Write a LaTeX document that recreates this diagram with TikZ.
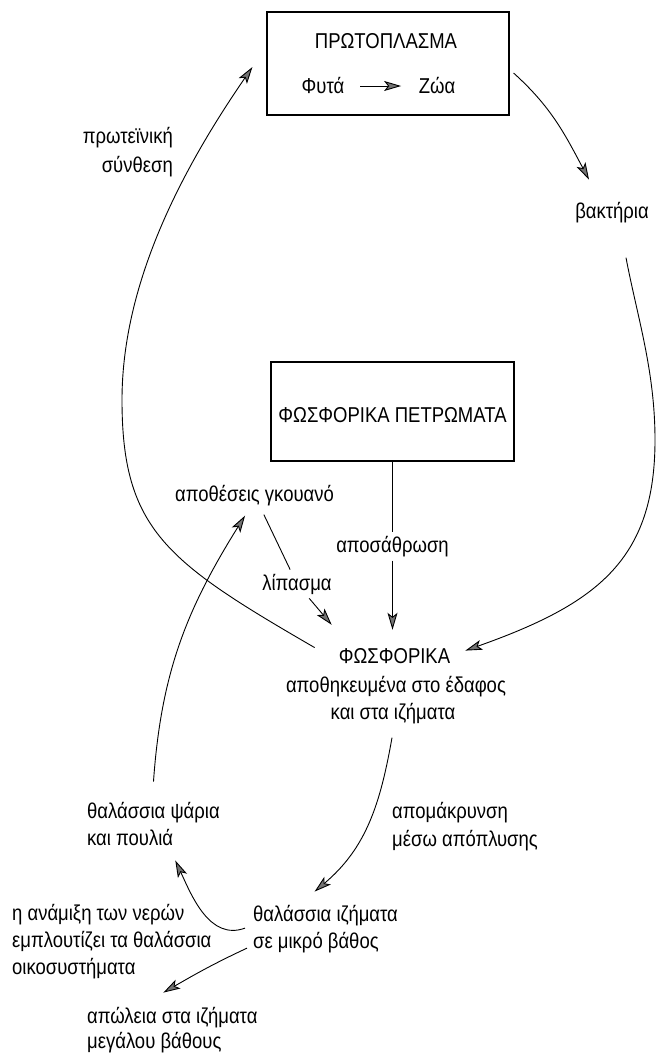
\documentclass[tikz,border=0pt]{standalone}
\usepackage{fontspec}
\setmainfont{Liberation Sans}[FakeStretch=0.86]
\usetikzlibrary{arrows.meta}
\tikzset{
  lbl/.style={inner sep=0pt},
  boxn/.style={draw, line width=1.1pt, inner sep=0pt},
  con/.style={line width=0.9pt},
  arr/.style={con, -{Stealth[length=17pt,width=10pt,inset=4pt,fill=black!55]}},
}
\begin{document}
\begin{tikzpicture}[x=1pt,y=-1pt,font=\fontsize{21.5}{28}\selectfont]
\useasboundingbox (0,0) rectangle (662,1054);

% boxes
\node[boxn, minimum width=242pt, minimum height=103pt] (proto) at (388,63.5) {};
\node[lbl, anchor=base] (protoT) at (386,49) {ΠΡΩΤΟΠΛΑΣΜΑ};
\node[lbl, anchor=base] (plants) at (323,94) {Φυτά};
\node[lbl, anchor=base] (animals) at (437,94) {Ζώα};
\draw[arr] ([shift={(15.5,0)}]plants.east) -- ([shift={(-17.5,0)}]plants.east -| animals.west);

\node[boxn, minimum width=243pt, minimum height=99pt, text height=21pt, text depth=0pt] (petro) at (392.5,411.5) {ΦΩΣΦΟΡΙΚΑ ΠΕΤΡΩΜΑΤΑ};

% labels
\node[lbl, anchor=base east] (syn1) at (173,143) {πρωτεϊνική};
\node[lbl, anchor=base east] (syn2) at (173,172) {σύνθεση};
\node[lbl, anchor=base] (bact) at (612,218) {βακτήρια};
\node[lbl, anchor=base, inner sep=4pt] (aposa) at (392.5,552) {αποσάθρωση};
\node[lbl, anchor=base west] (guano) at (175,501) {αποθέσεις γκουανό};
\node[lbl, anchor=base, inner sep=4pt] (lipasma) at (297,590) {λίπασμα};
\node[lbl, anchor=base] (phos1) at (394.5,663) {ΦΩΣΦΟΡΙΚΑ};
\node[lbl, anchor=base] (phos2) at (396,692) {αποθηκευμένα στο έδαφος};
\node[lbl, anchor=base] (phos3) at (393,719) {και στα ιζήματα};
\node[lbl, anchor=base west] (rem1) at (392,818) {απομάκρυνση};
\node[lbl, anchor=base west] (rem2) at (392,846) {μέσω απόπλυσης};
\node[lbl, anchor=base west] (fish1) at (87,818) {θαλάσσια ψάρια};
\node[lbl, anchor=base west] (fish2) at (87,845) {και πουλιά};
\node[lbl, anchor=base west] (sed1) at (253,921) {θαλάσσια ιζήματα};
\node[lbl, anchor=base west] (sed2) at (253,948) {σε μικρό βάθος};
\node[lbl, anchor=base west] (mix1) at (12,920) {η ανάμιξη των νερών};
\node[lbl, anchor=base west] (mix2) at (12,947) {εμπλουτίζει τα θαλάσσια};
\node[lbl, anchor=base west] (mix3) at (12,974) {οικοσυστήματα};
\node[lbl, anchor=base west] (loss1) at (87,1023) {απώλεια στα ιζήματα};
\node[lbl, anchor=base west] (loss2) at (87,1048) {μεγάλου βάθους};

% connectors
\draw[arr] ([shift={(-24,-8)}]phos1.west) .. controls (167,562) and (122,530) .. (122,400)
  .. controls (122,280) and (185,165) .. ([shift={(-14,3.5)}]proto.west);
\draw[arr] ([shift={(4,9.5)}]proto.east) to[out=-42,in=118] ([shift={(-23,-22)}]bact.north);
\draw[arr] ([shift={(14,35)}]bact.south) .. controls (637,316) and (655,370) .. (655,440)
  .. controls (655,560) and (597,604) .. ([shift={(15,-5)}]phos1.east);
\draw[con] (petro.south) -- (aposa.north);
\draw[arr] (aposa.south) -- ([shift={(-2,-18)}]phos1.north);
\draw[con, shorten <=10pt] (guano) -- (lipasma);
\draw[arr] (lipasma) -- ([shift={(-7,-23)}]phos1.north west);
\draw[arr] ([shift={(-1,14)}]phos3.south) to[out=-100,in=40] ([shift={(-11,-13)}]sed1.north);
\draw[arr] ([shift={(0,-20)}]fish1.north) to[out=86,in=-122] ([shift={(-9.5,10)}]guano.south);
\draw[arr] ([shift={(-8,13)}]sed1.west) to[out=200,in=-65] ([shift={(2,15)}]fish2.south east);
\draw[arr] ([shift={(-6,6)}]sed2.west) to[out=205,in=30] ([shift={(-9,-14)}]loss1.north);
\end{tikzpicture}
\end{document}
